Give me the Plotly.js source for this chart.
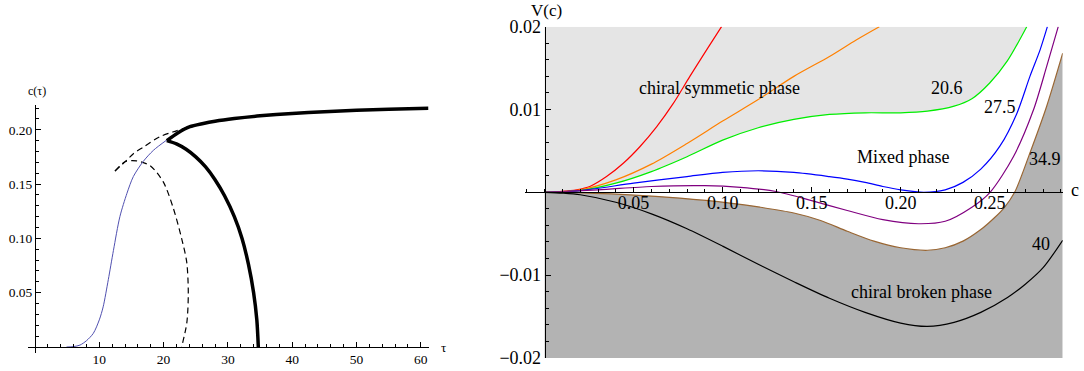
<!DOCTYPE html>
<html>
<head>
<meta charset="utf-8">
<script src="https://cdn.plot.ly/plotly-3.0.1.min.js"></script>
<style>html,body{margin:0;padding:0;background:#fff;}#chart{width:1084px;height:371px;}</style>
</head>
<body>
<div id="chart"></div>
<script>
// ---------- Left panel: c(tau) ----------
const blueTau = [4.9, 6.0, 7.0, 8.0, 9.07, 10.0, 10.6, 11.4, 12.2, 13.2, 14.3, 15.3, 16.8, 18.4, 20.5];
const blueC   = [0, 0.0004, 0.0018, 0.0058, 0.0126, 0.025, 0.037, 0.062, 0.089, 0.12, 0.1415, 0.157, 0.1706, 0.181, 0.1906];

const thickUpperTau = [61.2, 55, 50, 45, 40, 35, 31, 28, 26, 24.1, 22.2, 20.5];
const thickUpperC   = [0.2198, 0.2190, 0.2180, 0.2167, 0.2150, 0.2128, 0.2103, 0.2078, 0.2055, 0.2028, 0.1970, 0.1900];
const thickLowerTau = [20.5, 22.0, 23.5, 25.0, 26.5, 28.0, 29.5, 31.0, 32.2, 33.2, 34.0, 34.5, 34.73];
const thickLowerC   = [0.1900, 0.1870, 0.1820, 0.1750, 0.1660, 0.1540, 0.1390, 0.1200, 0.1000, 0.0760, 0.0500, 0.0250, 0];

const dashATau = [12.44, 14.26, 15.3, 16.84, 19.44, 22.0, 24.1];
const dashAC   = [0.162, 0.172, 0.178, 0.184, 0.1937, 0.199, 0.203];
const dashBTau = [12.44, 14.0, 15.8, 17.9, 19.95, 21.5, 22.8, 23.6, 23.84, 23.6, 22.8];
const dashBC   = [0.162, 0.1706, 0.1713, 0.167, 0.152, 0.128, 0.100, 0.078, 0.049, 0.0218, 0];

const leftXTicks = [10, 20, 30, 40, 50, 60];
const leftYTicks = [0.05, 0.10, 0.15, 0.20];

// ---------- Right panel: V(c) ----------
const redC = [0, 0.01, 0.018, 0.0254, 0.0348, 0.0442, 0.0535, 0.0629, 0.0722, 0.0816, 0.091, 0.0994];
const redV = [0, 0.0001, 0.0003, 0.0007, 0.0019, 0.0035, 0.0055, 0.0079, 0.0107, 0.014, 0.0172, 0.020];

const orangeC = [0, 0.02, 0.04, 0.06, 0.08, 0.10, 0.12, 0.14, 0.16, 0.175, 0.188];
const orangeV = [0, 0.0003, 0.0015, 0.0034, 0.0059, 0.0086, 0.0112, 0.0140, 0.0164, 0.0184, 0.0200];

const greenC = [0, 0.02, 0.04, 0.06, 0.08, 0.10, 0.12, 0.14, 0.16, 0.18, 0.20, 0.215, 0.23, 0.24, 0.25, 0.26, 0.2708];
const greenV = [0, 0.0002, 0.0011, 0.0025, 0.0043, 0.0063, 0.0078, 0.0088, 0.0094, 0.0096, 0.0096, 0.0098, 0.0104, 0.0113, 0.0132, 0.0159, 0.0200];

const blueVC = [0, 0.02, 0.05, 0.08, 0.10, 0.12, 0.14, 0.16, 0.17, 0.18, 0.19, 0.20, 0.213, 0.225, 0.235, 0.245, 0.2558, 0.2652, 0.2726, 0.2783, 0.2824];
const blueVV = [0, 0.0002, 0.0011, 0.0019, 0.0024, 0.0026, 0.0024, 0.0019, 0.0016, 0.0012, 0.0007, 0.0003, 0.0, 0.0003, 0.0012, 0.0028, 0.0056, 0.0095, 0.0140, 0.0172, 0.0200];

const purpleC = [0, 0.03, 0.06, 0.09, 0.11, 0.13, 0.15, 0.17, 0.19, 0.21, 0.225, 0.24, 0.2502, 0.2633, 0.2745, 0.282, 0.2885];
const purpleV = [0, 0.0003, 0.0007, 0.0008, 0.0006, 0.0001, -0.0010, -0.0022, -0.0033, -0.0038, -0.0035, -0.0018, 0.0, 0.0043, 0.0099, 0.0152, 0.0200];

const brownC = [0, 0.0105, 0.0479, 0.076, 0.1041, 0.121, 0.14, 0.155, 0.17, 0.185, 0.20, 0.215, 0.225, 0.235, 0.245, 0.2525, 0.258, 0.264, 0.2725, 0.282, 0.291];
const brownV = [0, 0, -0.0003, -0.0007, -0.0013, -0.0018, -0.0025, -0.0034, -0.0047, -0.0059, -0.0067, -0.0070, -0.0067, -0.0059, -0.0045, -0.0031, -0.0019, 0.0, 0.0047, 0.0104, 0.0168];

const blackC = [0, 0.01, 0.02, 0.04, 0.06, 0.08, 0.10, 0.12, 0.14, 0.16, 0.18, 0.20, 0.215, 0.23, 0.245, 0.26, 0.27, 0.28, 0.291];
const blackV = [0, -0.0001, -0.0003, -0.0012, -0.0026, -0.0044, -0.0065, -0.0087, -0.0108, -0.0128, -0.0145, -0.0158, -0.0162, -0.0157, -0.0145, -0.0127, -0.0111, -0.0091, -0.0058];

const rightXTicks = [0.05, 0.10, 0.15, 0.20, 0.25];
const rightYTicks = [-0.02, -0.01, 0.01, 0.02];

const labels = [
  {text: 'chiral symmetic phase', c: 0.0985, v: 0.0126},
  {text: '20.6', c: 0.2258, v: 0.0126},
  {text: '27.5', c: 0.2558, v: 0.0103},
  {text: 'Mixed phase', c: 0.2015, v: 0.0043},
  {text: '34.9', c: 0.2811, v: 0.0040},
  {text: '40', c: 0.2788, v: -0.0062},
  {text: 'chiral broken phase', c: 0.2118, v: -0.0120}
];

// ---------- geometry helpers (pixels -> paper) ----------
const W = 1084, H = 371;
const px = x => x / W;
const py = y => 1 - y / H;
const SERIF = 'Liberation Serif, Times New Roman, serif';

const yTop = 0.02, yBot = -0.02;
const SM = 0.8;

const traces = [];
// light gray region above the 20.6 curve
traces.push({x: greenC, y: greenC.map(() => yTop), xaxis: 'x2', yaxis: 'y2', mode: 'lines',
  line: {width: 0, shape: 'spline', smoothing: SM}, hoverinfo: 'skip'});
traces.push({x: greenC, y: greenV, xaxis: 'x2', yaxis: 'y2', mode: 'lines', fill: 'tonexty',
  fillcolor: '#e5e5e5', line: {width: 0, shape: 'spline', smoothing: SM}, hoverinfo: 'skip'});
// dark gray region below the 34.9 curve
traces.push({x: brownC, y: brownC.map(() => yBot), xaxis: 'x2', yaxis: 'y2', mode: 'lines',
  line: {width: 0, shape: 'spline', smoothing: SM}, hoverinfo: 'skip'});
traces.push({x: brownC, y: brownV, xaxis: 'x2', yaxis: 'y2', mode: 'lines', fill: 'tonexty',
  fillcolor: '#b3b3b3', line: {width: 0, shape: 'spline', smoothing: SM}, hoverinfo: 'skip'});

const rightSeries = [
  [redC, redV, '#ff0000'],
  [orangeC, orangeV, '#ff8000'],
  [greenC, greenV, '#00ee00'],
  [blueVC, blueVV, '#0000ff'],
  [purpleC, purpleV, '#800080'],
  [brownC, brownV, '#996633'],
  [blackC, blackV, '#000000']
];
rightSeries.forEach(s => traces.push({
  x: s[0], y: s[1], xaxis: 'x2', yaxis: 'y2', mode: 'lines',
  line: {color: s[2], width: 1.2, shape: 'spline', smoothing: SM}
}));

// left panel
traces.push({x: dashATau, y: dashAC, mode: 'lines', line: {color: '#000', width: 1.2, dash: '6px,4px', shape: 'spline', smoothing: SM}});
traces.push({x: dashBTau, y: dashBC, mode: 'lines', line: {color: '#000', width: 1.2, dash: '6px,4px', shape: 'spline', smoothing: SM}});
traces.push({x: blueTau, y: blueC, mode: 'lines', line: {color: '#5050b0', width: 1, shape: 'spline', smoothing: SM}});
traces.push({x: thickUpperTau, y: thickUpperC, mode: 'lines', line: {color: '#000', width: 3.5, shape: 'spline', smoothing: 0.6}});
traces.push({x: thickLowerTau, y: thickLowerC, mode: 'lines', line: {color: '#000', width: 3.5, shape: 'spline', smoothing: SM}});

const axBase = {
  showgrid: false, zeroline: false, showline: true, linecolor: '#000', linewidth: 1,
  ticks: 'inside', tickcolor: '#000', tickwidth: 1, tickmode: 'array',
  layer: 'above traces', fixedrange: true
};

const annotations = labels.map(l => ({
  text: l.text, x: l.c, y: l.v, xref: 'x2', yref: 'y2', showarrow: false,
  xanchor: 'center', yanchor: 'middle',
  font: {family: SERIF, size: 18, color: '#000'}
}));
const paperLabel = (text, x, y, size) => ({text: text, x: px(x), y: py(y), xref: 'paper', yref: 'paper',
  showarrow: false, xanchor: 'center', yanchor: 'middle', font: {family: SERIF, size: size, color: '#000'}});
annotations.push(paperLabel('c(τ)', 37, 91, 12));
annotations.push(paperLabel('τ', 443, 347, 13));
annotations.push(paperLabel('V(c)', 546, 10, 17));
annotations.push(paperLabel('c', 1075, 190, 18));

const layout = {
  width: W, height: H, margin: {l: 0, r: 0, t: 0, b: 0},
  paper_bgcolor: '#fff', plot_bgcolor: 'rgba(0,0,0,0)', showlegend: false,
  xaxis: Object.assign({}, axBase, {
    domain: [px(28), px(428.5)], range: [-1.09, 61.2], anchor: 'free', position: py(347),
    tickvals: leftXTicks, ticklen: 5, tickfont: {family: SERIF, size: 13.5, color: '#000'},
    minor: {tickmode: 'linear', tick0: 0, dtick: 2, ticks: 'inside', ticklen: 3, tickcolor: '#000', showgrid: false}
  }),
  yaxis: Object.assign({}, axBase, {
    domain: [py(353), py(105)], range: [-0.0055, 0.2228], anchor: 'free', position: px(35),
    tickvals: leftYTicks, tickformat: '.2f', ticklen: 5, tickfont: {family: SERIF, size: 13.5, color: '#000'},
    minor: {tickmode: 'linear', tick0: 0, dtick: 0.01, ticks: 'inside', ticklen: 3, tickcolor: '#000', showgrid: false}
  }),
  xaxis2: Object.assign({}, axBase, {
    domain: [px(525), px(1062.7)], range: [-0.011, 0.291], anchor: 'free', position: py(192.3),
    tickvals: rightXTicks, tickformat: '.2f', ticklen: 5, ticklabelstandoff: -6,
    tickfont: {family: SERIF, size: 18, color: '#000'},
    minor: {tickmode: 'linear', tick0: 0, dtick: 0.01, ticks: 'inside', ticklen: 3, tickcolor: '#000', showgrid: false}
  }),
  yaxis2: Object.assign({}, axBase, {
    domain: [py(357.9), py(26.7)], range: [-0.02, 0.02], anchor: 'free', position: px(544.7),
    tickvals: rightYTicks, tickformat: '.2f', ticklen: 5, tickfont: {family: SERIF, size: 18, color: '#000'},
    minor: {tickmode: 'linear', tick0: 0, dtick: 0.002, ticks: 'inside', ticklen: 3, tickcolor: '#000', showgrid: false}
  }),
  annotations: annotations
};

Plotly.newPlot('chart', traces, layout, {staticPlot: true, displayModeBar: false});
</script>
</body>
</html>
